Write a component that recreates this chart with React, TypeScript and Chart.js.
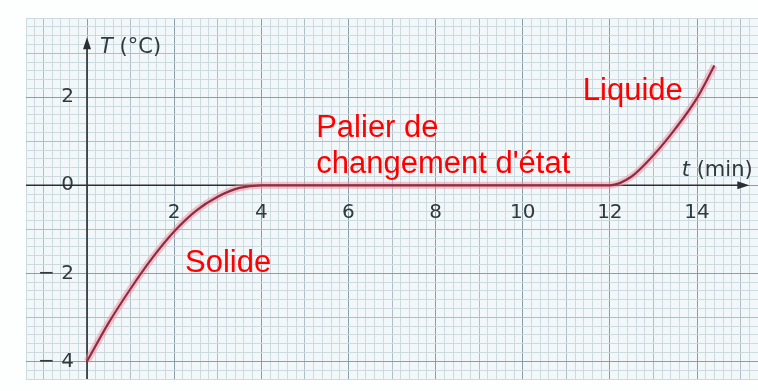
import { useEffect, useRef } from "react";
import { Chart, registerables } from "chart.js";

Chart.register(...registerables);

// ---- data ----
const times = [0, 0.5, 1, 1.5, 2, 2.5, 3, 3.5, 4, 6, 8, 10, 12, 12.5, 13, 13.5, 14, 14.4];
const temps = [-4, -3.12, -2.35, -1.65, -1.05, -0.58, -0.26, -0.06, 0, 0, 0, 0, 0, 0.2, 0.68, 1.28, 1.98, 2.72];
const xTickLabels = [2, 4, 6, 8, 10, 12, 14];
const yTickLabels = [2, 0, -2, -4];
const xRange = [-1.4, 15.4];
const yRange = [-4.4, 3.8];
const notes = [
  { text: "Solide", x: 2.25, y: -1.98 },
  { text: "Palier de", x: 5.26, y: 1.09 },
  { text: "changement d'état", x: 5.26, y: 0.27 },
  { text: "Liquide", x: 11.38, y: 1.93 },
];

const MAJOR = "#889ea8";
const MEDIUM = "#aebfc7";
const MINOR = "#cddbe1";
const TICK_FONT = "DejaVu Sans";

const isMult = (v: number, m: number) => Math.abs(v / m - Math.round(v / m)) < 1e-6;
const gridColor = (ctx: any) => {
  const v = ctx.tick ? ctx.tick.value : 0;
  if (isMult(v, 2)) return MAJOR;
  if (isMult(v, 1)) return MEDIUM;
  return MINOR;
};
const fmtY = (v: number) => (v < 0 ? "\u2212 " + Math.abs(v) : String(v));

const paperPlugin = {
  id: "paper",
  beforeDraw(chart: any) {
    const { ctx, chartArea: a } = chart;
    ctx.save();
    ctx.fillStyle = "#fdfefe";
    ctx.fillRect(0, 0, chart.width, chart.height);
    ctx.fillStyle = "#f2f8fa";
    ctx.fillRect(a.left, a.top, a.right - a.left, a.bottom - a.top);
    ctx.restore();
  },
  beforeDatasetsDraw(chart: any) {
    const { ctx, chartArea: a, scales } = chart;
    const x0 = scales.x.getPixelForValue(0);
    const y0 = scales.y.getPixelForValue(0);
    const xEnd = scales.x.getPixelForValue(15.2);
    const yEnd = scales.y.getPixelForValue(3.36);
    ctx.save();
    ctx.strokeStyle = "#2a2f33";
    ctx.fillStyle = "#2a2f33";
    ctx.lineWidth = 1.6;
    ctx.beginPath();
    ctx.moveTo(a.left, y0);
    ctx.lineTo(xEnd - 6, y0);
    ctx.moveTo(x0, a.bottom);
    ctx.lineTo(x0, yEnd + 6);
    ctx.stroke();
    ctx.beginPath();
    ctx.moveTo(xEnd, y0);
    ctx.lineTo(xEnd - 12, y0 - 4);
    ctx.lineTo(xEnd - 12, y0 + 4);
    ctx.closePath();
    ctx.fill();
    ctx.beginPath();
    ctx.moveTo(x0, yEnd);
    ctx.lineTo(x0 - 4, yEnd + 12);
    ctx.lineTo(x0 + 4, yEnd + 12);
    ctx.closePath();
    ctx.fill();
    // axis titles
    ctx.fillStyle = "#2f3a3f";
    ctx.textBaseline = "middle";
    ctx.textAlign = "left";
    let px = scales.x.getPixelForValue(0.3);
    let py = scales.y.getPixelForValue(3.14);
    ctx.font = `italic 21px ${TICK_FONT}`;
    ctx.fillText("T", px, py);
    px += ctx.measureText("T ").width;
    ctx.font = `21px ${TICK_FONT}`;
    ctx.fillText("(°C)", px, py);
    px = scales.x.getPixelForValue(13.65);
    py = scales.y.getPixelForValue(0.34);
    ctx.font = `italic 21px ${TICK_FONT}`;
    ctx.fillText("t", px, py);
    px += ctx.measureText("t ").width;
    ctx.font = `21px ${TICK_FONT}`;
    ctx.fillText("(min)", px, py);
    ctx.restore();
  },
  afterDraw(chart: any) {
    const { ctx, scales } = chart;
    ctx.save();
    ctx.fillStyle = "#ff0000";
    ctx.font = "31px 'Liberation Sans', Arial, sans-serif";
    ctx.textAlign = "left";
    ctx.textBaseline = "alphabetic";
    for (const n of notes) {
      ctx.fillText(n.text, scales.x.getPixelForValue(n.x), scales.y.getPixelForValue(n.y));
    }
    ctx.restore();
  },
};

const zeroPad = (s: any) => {
  s.paddingLeft = 0;
  s.paddingRight = 0;
  s.paddingTop = 0;
  s.paddingBottom = 0;
};

export default function App() {
  const ref = useRef<HTMLCanvasElement>(null);
  useEffect(() => {
    if (!ref.current) return;
    const points = times.map((t, i) => ({ x: t, y: temps[i] }));
    const chart = new Chart(ref.current, {
      type: "line",
      data: {
        datasets: [
          {
            data: points,
            borderColor: "#8f2d40",
            borderWidth: 2.2,
            pointRadius: 0,
            cubicInterpolationMode: "monotone",
            fill: false,
          },
          {
            data: points,
            borderColor: "rgba(240,140,160,0.5)",
            borderWidth: 7,
            pointRadius: 0,
            cubicInterpolationMode: "monotone",
            fill: false,
          },
        ],
      },
      options: {
        animation: false,
        responsive: false,
        layout: { padding: { left: 26, top: 18, right: 0, bottom: 12 } },
        plugins: { legend: { display: false }, tooltip: { enabled: false }, title: { display: false } },
        scales: {
          x: {
            type: "linear",
            position: { y: 0 } as any,
            min: xRange[0],
            max: xRange[1],
            afterFit: zeroPad,
            border: { display: false },
            grid: { color: gridColor, lineWidth: 1, drawTicks: false },
            ticks: {
              stepSize: 0.2,
              autoSkip: false,
              maxRotation: 0,
              minRotation: 0,
              padding: 16,
              color: "#2f3a3f",
              font: { family: TICK_FONT, size: 20 },
              callback: (v: any) => (xTickLabels.some((t) => Math.abs(t - v) < 1e-6) ? String(Math.round(v)) : ""),
            },
          },
          y: {
            type: "linear",
            position: { x: -0.3 } as any,
            min: yRange[0],
            max: yRange[1],
            afterFit: zeroPad,
            border: { display: false },
            grid: { color: gridColor, lineWidth: 1, drawTicks: false },
            ticks: {
              stepSize: 0.2,
              autoSkip: false,
              padding: 0,
              color: "#2f3a3f",
              font: { family: TICK_FONT, size: 20 },
              callback: (v: any) => {
                const m = yTickLabels.find((t) => Math.abs(t - v) < 1e-6);
                return m === undefined ? "" : fmtY(m);
              },
            },
          },
        },
      },
      plugins: [paperPlugin],
    } as any);
    return () => chart.destroy();
  }, []);
  return (
    <div style={{ position: "absolute", left: 0, top: 0, width: 758, height: 391 }}>
      <canvas ref={ref} width={758} height={391} style={{ display: "block" }} />
    </div>
  );
}
